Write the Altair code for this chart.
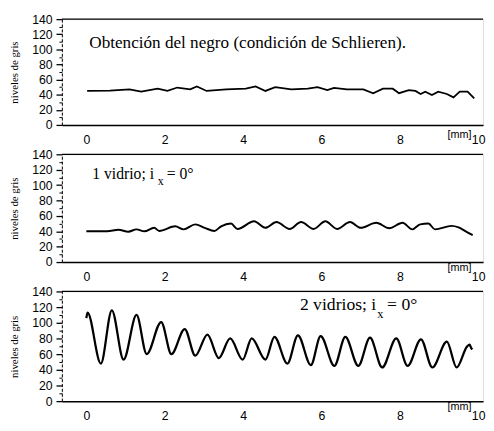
import altair as alt
import pandas as pd

# ---- data ----
x1 = [0.02, 0.6, 1.1, 1.4, 1.82, 2.07, 2.32, 2.65, 2.82, 3.07, 3.57, 4.07, 4.32, 4.57, 4.82,
      5.23, 5.65, 5.9, 6.15, 6.32, 6.65, 7.07, 7.32, 7.57, 7.82, 7.98, 8.23, 8.4, 8.53, 8.65,
      8.82, 8.98, 9.2, 9.37, 9.53, 9.73, 9.9]
y1 = [45, 45.5, 47, 44, 48, 45, 49.5, 47, 51, 45, 47, 48, 51, 45, 50,
      47, 48, 50, 46, 49, 47, 47, 42, 48, 48, 42, 46, 45, 41, 44,
      39.5, 44, 41, 36.5, 44, 44, 35]

x2 = [0.0, 0.53, 0.82, 1.07, 1.28, 1.48, 1.73, 1.86, 2.27, 2.48, 2.78, 3.02, 3.27, 3.44, 3.69,
      3.86, 4.28, 4.57, 4.85, 5.19, 5.48, 5.8, 6.1, 6.4, 6.73, 7.0, 7.4, 7.73, 8.07, 8.32,
      8.52, 8.73, 8.9, 9.32, 9.5, 9.65, 9.86]
y2 = [40, 40, 42, 39.5, 42.5, 40, 44.5, 40.5, 46.5, 42.5, 49, 44.5, 40.5, 46.5, 50,
      43, 53, 44.5, 52, 43, 52, 43, 53, 43, 52, 44.5, 51, 44, 51, 42.5,
      49, 50, 42.5, 47, 45, 41, 35]

x3 = [0.0, 0.03, 0.37, 0.65, 0.95, 1.28, 1.54, 1.91, 2.17, 2.51, 2.78, 3.09, 3.38, 3.67, 3.99,
      4.22, 4.57, 4.80, 5.13, 5.40, 5.73, 5.98, 6.33, 6.61, 6.94, 7.24, 7.55, 7.91, 8.20, 8.54,
      8.83, 9.20, 9.45, 9.72, 9.78, 9.82, 9.85]
y3 = [106, 113, 48, 116, 53, 110, 60, 101, 60, 92, 58, 85, 55, 80, 53,
      80, 53, 82, 48, 84, 46, 83, 45, 82, 45, 81, 43, 80, 45, 79,
      43, 76, 43, 70, 72, 68, 66]

x_ticks = [0, 2, 4, 6, 8, 10]
y_ticks = list(range(0, 141, 10))
y_title = "niveles de gris"

W = 430
X_DOMAIN = [-0.625, 10.125]
SERIF = "Times New Roman, Liberation Serif, serif"
dummy = pd.DataFrame({"a": [0]})


def panel(xs, ys, h, interp, sw, texts, mm_dy):
    df = pd.DataFrame({"x": xs, "y": ys})
    line = alt.Chart(df).mark_line(color="black", strokeWidth=sw, interpolate=interp).encode(
        x=alt.X("x:Q", scale=alt.Scale(domain=X_DOMAIN, nice=False, zero=False),
                axis=alt.Axis(values=x_ticks, ticks=False, labelPadding=9, domainWidth=1.5,
                              domainColor="black", labelFont="Liberation Sans", labelFontSize=12.5,
                              labelColor="black", grid=False, title=None, labelFlush=False)),
        y=alt.Y("y:Q", scale=alt.Scale(domain=[0, 140], nice=False),
                axis=alt.Axis(values=y_ticks,
                              labelExpr="datum.value % 20 === 0 ? datum.label : ''",
                              tickSize={"condition": {"test": "datum.value % 20 === 0", "value": 6}, "value": 3},
                              tickWidth={"condition": {"test": "datum.value % 20 === 0", "value": 1.3}, "value": 1},
                              tickColor="black", domainColor="black", domainDash=[3, 2], domainWidth=1,
                              labelFont="Liberation Sans", labelFontSize=12.5, labelColor="black",
                              labelPadding=4, grid=False, title=y_title, titleFont=SERIF,
                              titleFontSize=11, titleFontWeight="normal", titleColor="black",
                              titlePadding=12)),
    )
    top = alt.Chart(dummy).mark_rule(color="black", strokeWidth=1.2).encode(
        x=alt.value(0), x2=alt.value(W), y=alt.value(0))
    layers = [line, top]
    for (tx, ty, t, fs) in texts:
        layers.append(alt.Chart(dummy).mark_text(text=t, font=SERIF, fontSize=fs,
                                                 align="left", baseline="middle", color="black")
                      .encode(x=alt.value(tx), y=alt.value(ty)))
    layers.append(alt.Chart(dummy).mark_text(text="[mm]", font="Liberation Sans", fontSize=11,
                                             align="center", baseline="middle", color="black")
                  .encode(x=alt.value(406), y=alt.value(h + mm_dy)))
    return alt.layer(*layers).properties(width=W, height=h)


p1 = panel(x1, y1, 108, "linear", 1.8,
           [(28, 24, "Obtención del negro (condición de Schlieren).", 17.5)], 10)
p2 = panel(x2, y2, 110, "monotone", 2.0,
           [(31, 20, "1 vidrio; i", 16), (98, 27, "x", 12), (107, 20, "= 0°", 16)], 6)
p3 = panel(x3, y3, 112, "monotone", 2.3,
           [(243, 14, "2 vidrios; i", 18), (322, 23, "x", 12.5), (332, 14, "= 0°", 18)], 6)

chart = alt.vconcat(p1, p2, p3, spacing=30, bounds="flush").properties(
    padding={"left": 0, "top": 0, "right": 0, "bottom": 0}
).configure_view(stroke=None).configure(background="white")

chart.save("out.html", embed_options={"renderer": "svg", "actions": False})
